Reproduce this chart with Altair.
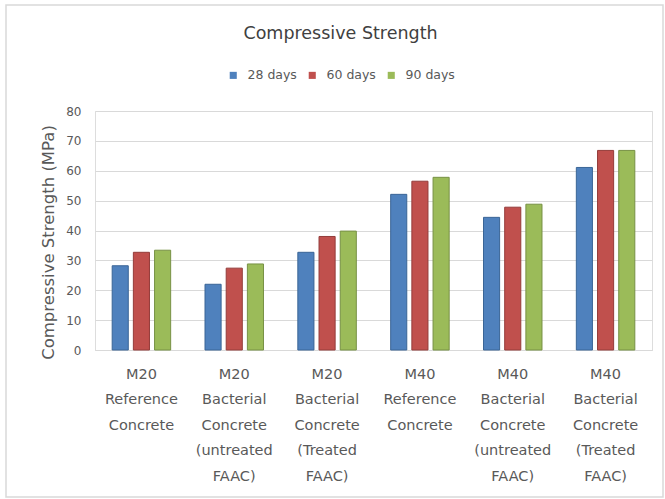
import altair as alt
import pandas as pd

# Mix designs (x-axis categories, one list entry per label line)
mixes = [
    ["M20", "Reference", "Concrete"],
    ["M20", "Bacterial", "Concrete", "(untreated", "FAAC)"],
    ["M20", "Bacterial", "Concrete", "(Treated", "FAAC)"],
    ["M40", "Reference", "Concrete"],
    ["M40", "Bacterial", "Concrete", "(untreated", "FAAC)"],
    ["M40", "Bacterial", "Concrete", "(Treated", "FAAC)"],
]
ages = ["28 days", "60 days", "90 days"]

# Compressive strength in MPa for each mix at each curing age
strength_28 = [28.2, 22.0, 32.7, 52.1, 44.4, 61.1]
strength_60 = [32.7, 27.4, 38.0, 56.5, 47.8, 66.8]
strength_90 = [33.4, 28.8, 39.8, 57.8, 48.8, 66.8]

colors = ["#4F81BD", "#C0504D", "#9BBB59"]
strokes = ["#3A6596", "#943C3A", "#779145"]

mix_keys = ["|".join(m) for m in mixes]
rows = []
for age, vals in zip(ages, [strength_28, strength_60, strength_90]):
    for key, v in zip(mix_keys, vals):
        rows.append({"mix": key, "age": age, "strength": v})
df = pd.DataFrame(rows)

font = "DejaVu Sans"
grey = "#595959"

bars = alt.Chart(df).mark_bar(strokeWidth=1).encode(
    x=alt.X(
        "mix:N",
        sort=mix_keys,
        scale=alt.Scale(paddingInner=0.37, paddingOuter=0.185),
        axis=alt.Axis(
            title=None,
            labelExpr="split(datum.label, '|')",
            labelAngle=0,
            labelFont=font,
            labelFontSize=14.5,
            labelColor=grey,
            labelLineHeight=25.5,
            labelPadding=17,
            labelBaseline="top",
            ticks=False,
            domainColor="#D9D9D9",
            domainWidth=1,
            grid=False,
        ),
    ),
    xOffset=alt.XOffset("age:N", sort=ages, scale=alt.Scale(paddingInner=0.24, paddingOuter=0)),
    y=alt.Y(
        "strength:Q",
        scale=alt.Scale(domain=[0, 80]),
        axis=alt.Axis(
            title="Compressive Strength (MPa)",
            titleFont=font,
            titleFontSize=16.5,
            titleFontWeight="normal",
            titleColor=grey,
            titleBaseline="middle",
            titleX=-47,
            titleY=131,
            values=list(range(0, 81, 10)),
            labelFont=font,
            labelFontSize=12,
            labelColor=grey,
            labelPadding=14,
            ticks=False,
            domain=False,
            gridColor="#D9D9D9",
            gridWidth=1,
        ),
    ),
    color=alt.Color(
        "age:N",
        sort=ages,
        scale=alt.Scale(domain=ages, range=colors),
        legend=alt.Legend(
            title=None,
            orient="none",
            direction="horizontal",
            legendX=132,
            legendY=-42,
            symbolType="square",
            symbolSize=50,
            symbolStrokeWidth=0,
            labelFont=font,
            labelFontSize=12.5,
            labelColor=grey,
            columnPadding=9,
            labelOffset=8,
        ),
    ),
    stroke=alt.Stroke("age:N", sort=ages, scale=alt.Scale(domain=ages, range=strokes), legend=None),
)

# light grey frame drawn around the whole figure
frame = alt.Chart().mark_rect(fill=None, stroke="#D9D9D9", strokeWidth=1.5, clip=False).encode(
    x=alt.value(-89), x2=alt.value(568), y=alt.value(-106), y2=alt.value(147 + 239)
)

chart = alt.layer(frame, bars).properties(
    width=557,
    height=239,
    title=alt.TitleParams(
        "Compressive Strength",
        font=font,
        fontSize=17.5,
        fontWeight="normal",
        color="#404040",
        anchor="middle",
        dx=-33,
        offset=-38,
    ),
    autosize=alt.AutoSizeParams(type="none"),
    padding={"left": 95, "top": 111, "right": 13, "bottom": 149},
).configure_view(stroke=None).configure(background="white")

chart.save("out.html", embed_options={"renderer": "svg", "actions": False})
